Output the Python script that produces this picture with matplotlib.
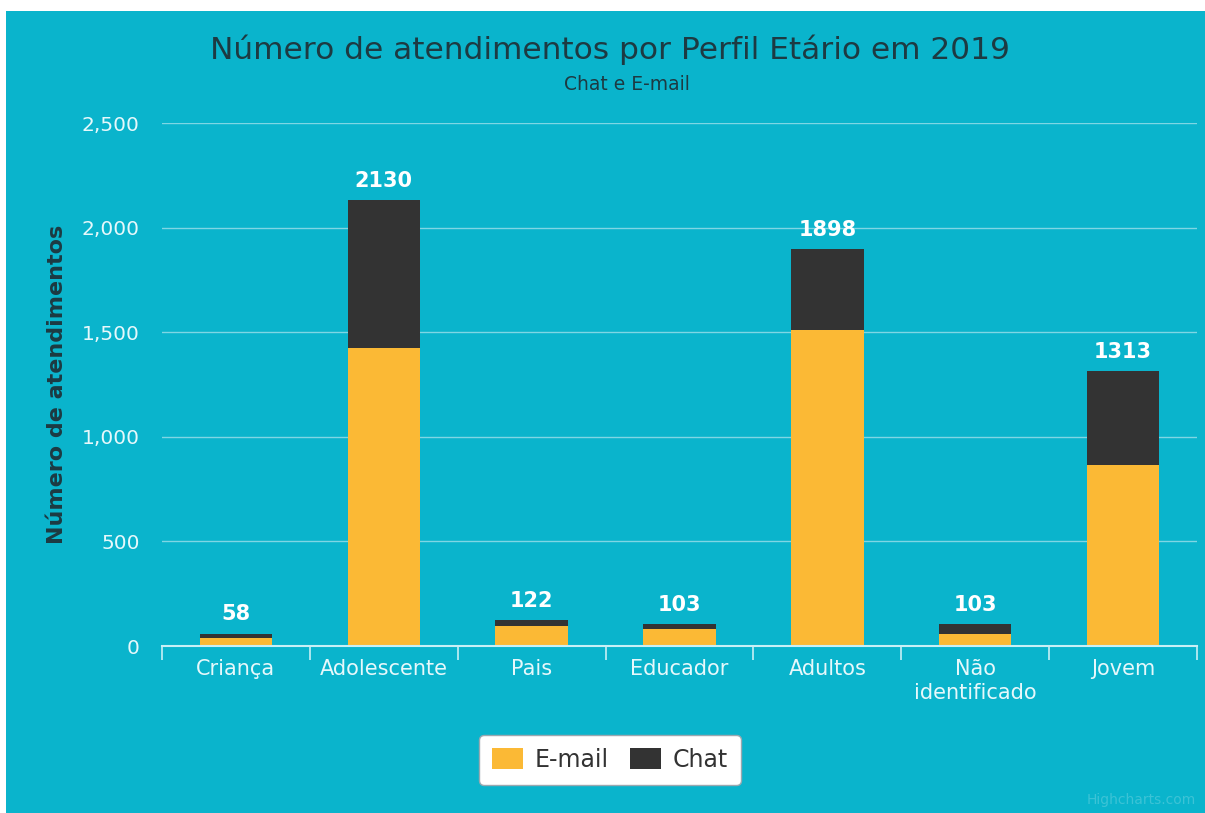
import matplotlib
matplotlib.use("Agg")
import matplotlib.pyplot as plt
from matplotlib.patches import Rectangle
from matplotlib.ticker import FuncFormatter, FixedLocator
import numpy as np

categories = ["Criança", "Adolescente", "Pais", "Educador", "Adultos", "Não\nidentificado", "Jovem"]
email = [38, 1425, 97, 80, 1510, 58, 865]
chat = [20, 705, 25, 23, 388, 45, 448]
yticks = [0, 500, 1000, 1500, 2000, 2500]

BG = "#0ab4cc"
YELLOW = "#fbb935"
DARK = "#333333"
GRID = "#7fd6e4"
TITLE_C = "#1d3a42"
TICK_C = "#e6f8fb"

fig = plt.figure(figsize=(12.05, 8.13), dpi=100)
fig.patch.set_facecolor("white")
bg = Rectangle((6 / 1205, 0), 1 - 6 / 1205, 1 - 11 / 813,
               transform=fig.transFigure, facecolor=BG, edgecolor="none", zorder=-10)
fig.patches.append(bg)

ax = fig.add_axes([162 / 1205, 1 - 646 / 813, 1035 / 1205, (646 - 123) / 813])
ax.set_facecolor("none")

x = np.arange(len(categories))
w = 0.49
ax.bar(x, email, width=w, color=YELLOW, zorder=3, label="E-mail")
ax.bar(x, chat, width=w, bottom=email, color=DARK, zorder=3, label="Chat")

totals = [e + c for e, c in zip(email, chat)]
for xi, t in zip(x, totals):
    ax.text(xi, t + 45, f"{t}", ha="center", va="bottom", fontsize=15,
            fontweight="bold", color="white", zorder=4)

ax.set_xlim(-0.5, len(categories) - 0.5)
ax.set_ylim(0, 2500)
ax.set_yticks(yticks)
ax.yaxis.set_major_formatter(FuncFormatter(lambda v, p: f"{int(v):,}"))
ax.grid(axis="y", color=GRID, linewidth=1, zorder=1)
ax.tick_params(axis="y", length=0, pad=16, labelsize=14.5, labelcolor=TICK_C)

ax.set_xticks(x)
ax.set_xticklabels(categories, fontsize=15, color=TICK_C, linespacing=1.3)
ax.tick_params(axis="x", which="major", length=0, pad=9)
ax.xaxis.set_minor_locator(FixedLocator(np.arange(-0.5, len(categories), 1.0)))
ax.tick_params(axis="x", which="minor", length=10, width=1.2, color="#c8f0f6", direction="out")

for s in ["top", "right", "left"]:
    ax.spines[s].set_visible(False)
ax.spines["bottom"].set_color("#c8f0f6")
ax.spines["bottom"].set_linewidth(1.5)
ax.spines["bottom"].set_zorder(5)

ax.set_ylabel("Número de atendimentos", fontsize=16, fontweight="bold",
              color=TITLE_C)
ax.yaxis.set_label_coords(-0.092, 0.5)

fig.text(0.506, 1 - 50 / 813, "Número de atendimentos por Perfil Etário em 2019",
         ha="center", va="center", fontsize=22.5, color=TITLE_C)
fig.text(627 / 1205, 1 - 85 / 813, "Chat e E-mail", ha="center", va="center",
         fontsize=13.5, color=TITLE_C)

leg = ax.legend(loc="center", bbox_to_anchor=(610 / 1205, 1 - 760 / 813),
                bbox_transform=fig.transFigure, ncol=2, frameon=True,
                fontsize=17, handlelength=1.3, handleheight=1.0,
                columnspacing=0.9, handletextpad=0.5, borderpad=0.55,
                fancybox=True)
frame = leg.get_frame()
frame.set_facecolor("white")
frame.set_edgecolor("#9aa8b0")
frame.set_alpha(1)
for t in leg.get_texts():
    t.set_color("#333333")

fig.text(1196 / 1205, 1 - 800 / 813, "Highcharts.com", ha="right", va="center",
         fontsize=10, color="#3cc3d6")

fig.savefig("out.png", dpi=100, facecolor=fig.get_facecolor())
